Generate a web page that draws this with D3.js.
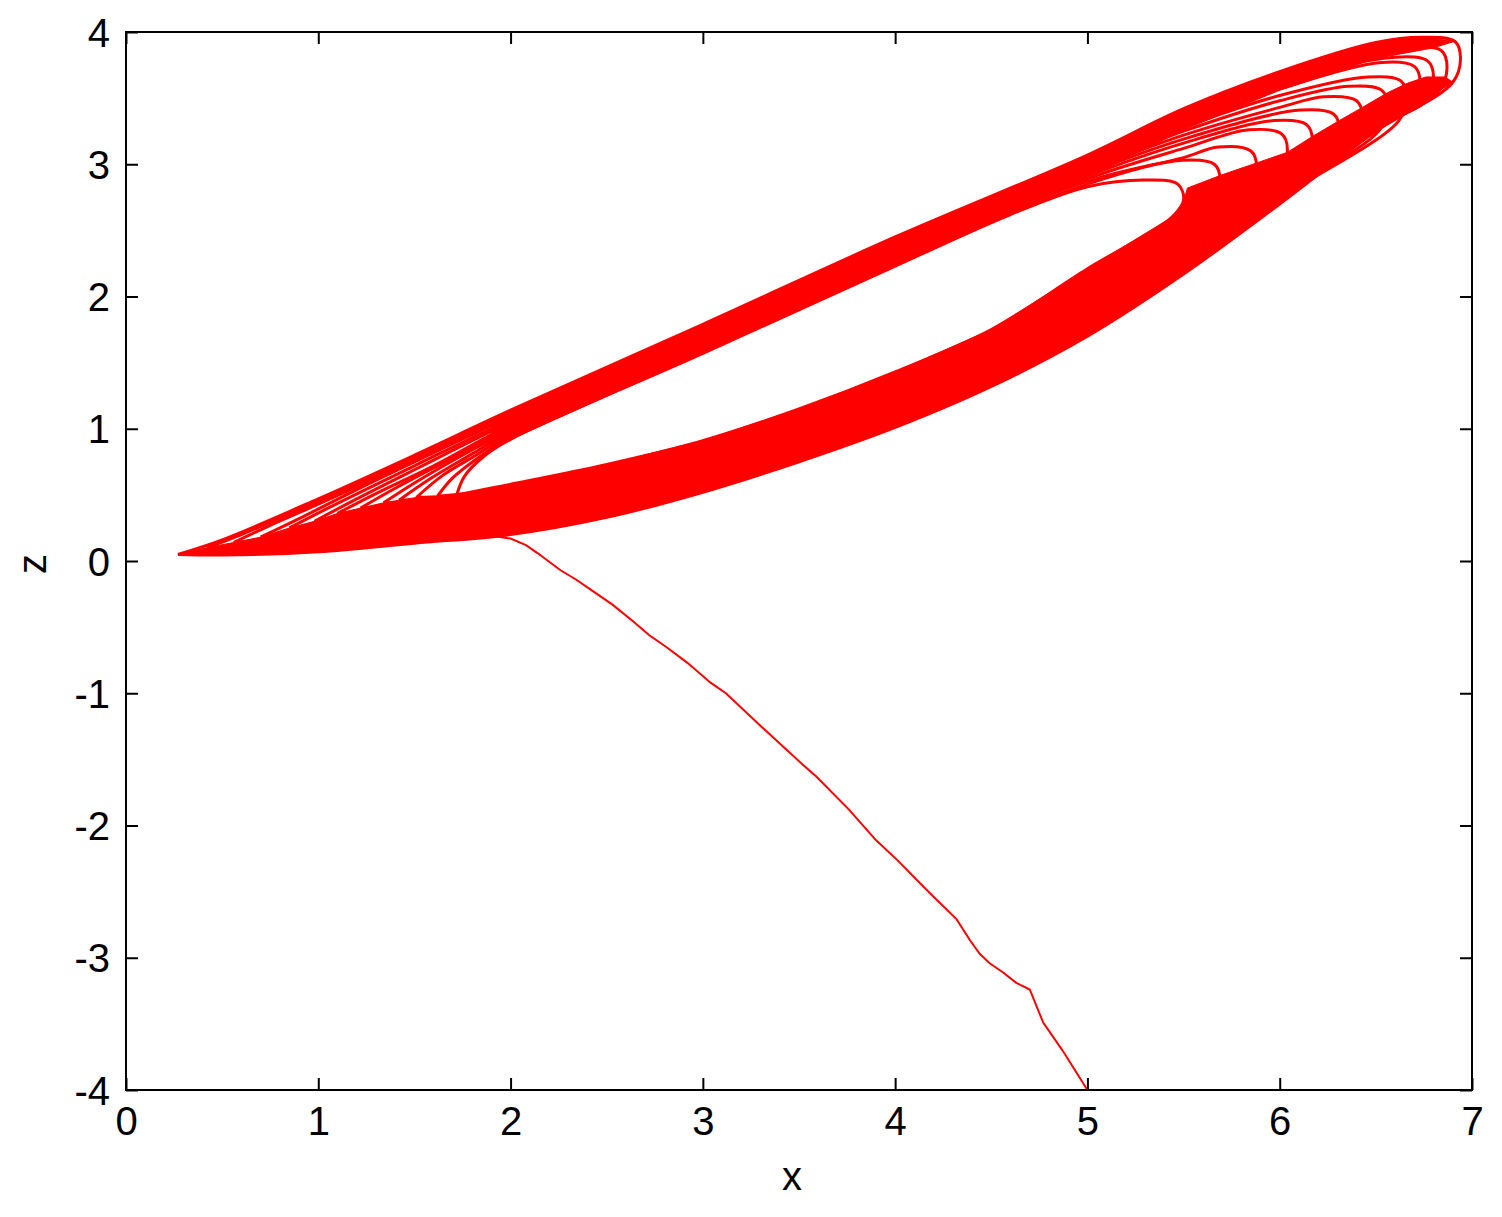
<!DOCTYPE html>
<html>
<head>
<meta charset="utf-8">
<script src="https://cdnjs.cloudflare.com/ajax/libs/d3/7.8.5/d3.min.js"></script>
<style>
  body { margin: 0; background: #fff; }
  .axis text { font-family: "Liberation Sans", Arial, sans-serif; font-size: 40px; fill: #000; }
  .axis line { stroke: #000; stroke-width: 2px; }
  .axis path { display: none; }
  .axis-label { font-family: "Liberation Sans", Arial, sans-serif; font-size: 40px; fill: #000; }
</style>
</head>
<body>
<svg id="chart"></svg>
<script>
'use strict';

// tick values
var xTicks = [0, 1, 2, 3, 4, 5, 6, 7];
var zTicks = [-4, -3, -2, -1, 0, 1, 2, 3, 4];

// transient: from (5,-4) up into the attractor
var transient = [[5.00,-4.00],[4.87,-3.70],[4.77,-3.49],[4.70,-3.24],[4.63,-3.19],[4.56,-3.11],[4.49,-3.04],[4.44,-2.97],[4.39,-2.87],[4.32,-2.71],[4.18,-2.51],[4.01,-2.26],[3.90,-2.11],[3.76,-1.88],[3.59,-1.63],[3.52,-1.54],[3.40,-1.38],[3.28,-1.22],[3.12,-1.00],[3.04,-0.92],[2.92,-0.77],[2.81,-0.65],[2.72,-0.56],[2.64,-0.46],[2.53,-0.33],[2.43,-0.23],[2.34,-0.14],[2.26,-0.07],[2.14,0.06],[2.08,0.12],[2.00,0.17],[1.90,0.19]];

// dense lower part of the band: outer lower edge, edge of the hook zone,
// hole bottom, line of the left turns
var outerLower = [[0.27,0.05],[0.5,0.045],[1.0,0.07],[1.5,0.135],[2.0,0.20],[2.5,0.33],[3.0,0.52],[3.5,0.75],[4.0,1.01],[4.5,1.32],[5.0,1.70],[5.5,2.17],[6.0,2.70],[6.5,3.25],[6.90,3.62]];
var hookEdge = [[6.86,3.66],[6.76,3.66],[6.66,3.61],[6.56,3.54],[6.43,3.43],[6.31,3.33],[6.17,3.21],[6.04,3.09],[5.88,3.01],[5.70,2.92],[5.52,2.82]];
var holeBottom = [[5.50,2.72],[5.44,2.60],[5.0,2.21],[4.5,1.75],[4.0,1.43],[3.5,1.15],[3.0,0.91],[2.5,0.73],[2.0,0.58],[1.72,0.50]];
var turnLine = [[1.62,0.49],[1.51,0.48],[1.42,0.46],[1.34,0.44],[1.22,0.40],[1.10,0.36],[0.98,0.30],[0.85,0.25],[0.70,0.18],[0.56,0.14],[0.42,0.10],[0.27,0.05]];

// dense upper arm: outer upper edge, then its inner edge back
var upperOuter = [[1.9,1.07],[2.0,1.14],[3.0,1.79],[4.0,2.45],[5.0,3.07],[5.5,3.42],[6.0,3.70],[6.5,3.92],[6.74,3.96],[6.91,3.93]];
var upperInner = [[6.80,3.88],[6.5,3.80],[6.0,3.56],[5.5,3.26],[5.0,2.90],[4.6,2.62],[4.0,2.23],[3.0,1.57],[2.0,0.92],[1.9,0.85]];

// loops of the attractor, inner to outer (x, z)
var loop0 = [[1.72,0.50],[1.76,0.64],[1.86,0.79],[2.0,0.92],[3.0,1.57],[4.0,2.23],[4.6,2.62],[5.0,2.83],[5.30,2.88],[5.47,2.85],[5.50,2.73],[5.44,2.60],[5.0,2.21],[4.5,1.75],[4.0,1.43],[3.5,1.15],[3.0,0.91],[2.5,0.73],[2.0,0.58],[1.72,0.50]];
var loop1 = [[1.62,0.49],[1.70,0.63],[1.85,0.80],[2.0,0.94],[3.0,1.59],[4.0,2.25],[5.0,2.85],[5.49,3.03],[5.66,3.00],[5.69,2.88],[5.65,2.70],[5.5,2.56],[5.0,2.15],[4.5,1.71],[4.0,1.40],[3.5,1.12],[3.0,0.88],[2.5,0.70],[2.0,0.55],[1.62,0.49]];
var loop2 = [[1.51,0.48],[1.64,0.64],[1.82,0.80],[2.0,0.96],[3.0,1.61],[4.0,2.27],[5.0,2.87],[5.5,3.05],[5.68,3.13],[5.85,3.10],[5.88,2.98],[5.84,2.80],[5.5,2.47],[5.0,2.09],[4.5,1.68],[4.0,1.36],[3.5,1.08],[3.0,0.84],[2.5,0.66],[2.0,0.52],[1.51,0.48]];
var loop3 = [[1.42,0.46],[1.58,0.62],[1.8,0.81],[2.0,0.98],[3.0,1.63],[4.0,2.29],[5.0,2.89],[5.5,3.12],[5.84,3.26],[6.01,3.23],[6.04,3.11],[6.00,2.93],[5.5,2.42],[5.0,2.05],[4.5,1.64],[4.0,1.33],[3.5,1.05],[3.0,0.81],[2.5,0.63],[2.0,0.49],[1.42,0.46]];
var loop4 = [[1.34,0.44],[1.5,0.59],[1.75,0.80],[2.0,0.99],[3.0,1.64],[4.0,2.30],[5.0,2.91],[5.5,3.16],[5.97,3.33],[6.14,3.30],[6.17,3.18],[6.13,3.00],[5.5,2.37],[5.0,2.01],[4.5,1.61],[4.0,1.29],[3.5,1.02],[3.0,0.78],[2.5,0.60],[2.0,0.45],[1.34,0.44]];
var loop5 = [[1.22,0.40],[1.4,0.55],[1.7,0.78],[2.0,1.01],[3.0,1.66],[4.0,2.32],[5.0,2.93],[5.5,3.19],[6.11,3.41],[6.28,3.38],[6.31,3.26],[6.27,3.08],[6.0,2.80],[5.5,2.33],[5.0,1.97],[4.5,1.57],[4.0,1.26],[3.5,0.98],[3.0,0.75],[2.5,0.56],[2.0,0.42],[1.22,0.40]];
var loop6 = [[1.10,0.36],[1.3,0.51],[1.6,0.72],[2.0,1.03],[3.0,1.68],[4.0,2.34],[5.0,2.95],[5.5,3.22],[6.0,3.43],[6.23,3.51],[6.40,3.48],[6.43,3.36],[6.39,3.18],[6.0,2.78],[5.5,2.28],[5.0,1.93],[4.5,1.54],[4.0,1.22],[3.5,0.95],[3.0,0.72],[2.5,0.53],[2.0,0.39],[1.5,0.37],[1.10,0.36]];
var loop7 = [[0.98,0.30],[1.2,0.47],[1.5,0.69],[2.0,1.05],[3.0,1.70],[4.0,2.36],[5.0,2.97],[5.5,3.25],[6.0,3.48],[6.36,3.59],[6.53,3.56],[6.56,3.44],[6.52,3.26],[6.0,2.76],[5.5,2.24],[5.0,1.90],[4.5,1.50],[4.0,1.19],[3.5,0.92],[3.0,0.68],[2.5,0.50],[2.0,0.36],[1.5,0.33],[0.98,0.30]];
var loop8 = [[0.85,0.25],[1.05,0.40],[1.5,0.72],[2.0,1.07],[3.0,1.72],[4.0,2.38],[5.0,2.99],[5.5,3.28],[6.0,3.52],[6.46,3.66],[6.63,3.63],[6.66,3.51],[6.62,3.33],[6.0,2.74],[5.5,2.22],[5.0,1.86],[4.5,1.46],[4.0,1.15],[3.5,0.88],[3.0,0.65],[2.5,0.46],[2.0,0.33],[1.5,0.30],[0.85,0.25]];
var loop9 = [[0.70,0.18],[0.9,0.32],[1.2,0.54],[1.5,0.75],[2.0,1.09],[3.0,1.74],[4.0,2.40],[5.0,3.01],[5.5,3.32],[6.0,3.57],[6.53,3.77],[6.70,3.74],[6.73,3.62],[6.69,3.44],[6.5,3.30],[6.0,2.73],[5.5,2.20],[5.0,1.82],[4.5,1.43],[4.0,1.12],[3.5,0.85],[3.0,0.62],[2.5,0.43],[2.0,0.30],[1.5,0.25],[1.0,0.21],[0.70,0.18]];
var loop10 = [[0.56,0.14],[0.75,0.27],[1.0,0.43],[1.5,0.76],[2.0,1.10],[3.0,1.75],[4.0,2.41],[5.0,3.03],[5.5,3.36],[6.0,3.62],[6.60,3.81],[6.77,3.78],[6.80,3.66],[6.76,3.48],[6.5,3.28],[6.0,2.72],[5.5,2.19],[5.0,1.78],[4.5,1.39],[4.0,1.08],[3.5,0.82],[3.0,0.59],[2.5,0.40],[2.0,0.26],[1.5,0.22],[1.0,0.17],[0.56,0.14]];
var loop11 = [[0.42,0.10],[0.6,0.20],[1.0,0.45],[1.5,0.78],[2.0,1.12],[3.0,1.77],[4.0,2.43],[5.0,3.05],[5.5,3.40],[6.0,3.66],[6.5,3.86],[6.67,3.89],[6.84,3.86],[6.87,3.74],[6.83,3.56],[6.5,3.27],[6.0,2.71],[5.5,2.18],[5.0,1.74],[4.5,1.36],[4.0,1.05],[3.5,0.78],[3.0,0.55],[2.5,0.36],[2.0,0.23],[1.5,0.18],[1.0,0.12],[0.42,0.10]];
var loop12 = [[0.27,0.05],[0.5,0.16],[1.0,0.47],[1.5,0.80],[2.0,1.14],[3.0,1.79],[4.0,2.45],[5.0,3.07],[5.5,3.42],[6.0,3.70],[6.5,3.92],[6.74,3.96],[6.91,3.93],[6.94,3.81],[6.90,3.62],[6.5,3.25],[6.0,2.70],[5.5,2.17],[5.0,1.70],[4.5,1.32],[4.0,1.01],[3.5,0.75],[3.0,0.52],[2.5,0.33],[2.0,0.20],[1.5,0.135],[1.0,0.07],[0.5,0.045],[0.27,0.05]];

var loops = [loop0, loop1, loop2, loop3, loop4, loop5, loop6, loop7, loop8, loop9, loop10, loop11, loop12];

function drawChart() {
    var margin = { top: 32, right: 30, bottom: 127, left: 126 };
    var w = 1502;
    var h = 1217;
    var width = w - margin.left - margin.right;
    var height = h - margin.top - margin.bottom;

    var svg = d3.select('#chart').attr('width', w).attr('height', h);
    var g = svg.append('g').attr('transform', 'translate(' + margin.left + ',' + margin.top + ')');

    var x = d3.scaleLinear().domain([0, 7]).range([0, width]);
    var z = d3.scaleLinear().domain([-4, 4]).range([height, 0]);

    var line = d3.line()
        .x(function (d) { return x(d[0]); })
        .y(function (d) { return z(d[1]); });

    // parts of the band where the passes lie too close to tell apart
    var dense = [outerLower.concat(hookEdge, holeBottom, turnLine), upperOuter.concat(upperInner)];
    g.append('g').attr('class', 'dense').selectAll('path')
        .data(dense).enter().append('path')
        .attr('d', function (d) { return line.curve(d3.curveLinear)(d) + 'Z'; })
        .attr('fill', '#ff0000')
        .attr('stroke', '#ff0000')
        .attr('stroke-width', 1);

    // attractor loops
    g.append('g').attr('class', 'loops').selectAll('path')
        .data(loops).enter().append('path')
        .attr('d', line.curve(d3.curveCatmullRom.alpha(0.5)))
        .attr('fill', 'none')
        .attr('stroke', '#ff0000')
        .attr('stroke-width', 3)
        .attr('stroke-linejoin', 'miter');

    // transient
    g.append('path')
        .datum(transient)
        .attr('d', line.curve(d3.curveLinear))
        .attr('fill', 'none')
        .attr('stroke', '#ff0000')
        .attr('stroke-width', 2);

    // axes, ticks pointing inward on all four sides
    var fmt = function (d) { return String(d); };

    g.append('g').attr('class', 'axis axis-x')
        .attr('transform', 'translate(0,' + height + ')')
        .call(d3.axisBottom(x).tickValues(xTicks).tickFormat(fmt).tickSizeInner(-12).tickSizeOuter(0).tickPadding(17));

    g.append('g').attr('class', 'axis axis-top')
        .call(d3.axisTop(x).tickValues(xTicks).tickFormat('').tickSizeInner(-12).tickSizeOuter(0));

    g.append('g').attr('class', 'axis axis-y')
        .call(d3.axisLeft(z).tickValues(zTicks).tickFormat(fmt).tickSizeInner(-12).tickSizeOuter(0).tickPadding(16));

    g.append('g').attr('class', 'axis axis-right')
        .attr('transform', 'translate(' + width + ',0)')
        .call(d3.axisRight(z).tickValues(zTicks).tickFormat('').tickSizeInner(-12).tickSizeOuter(0));

    g.selectAll('.axis-y text').attr('dy', '0.35em');

    // frame
    g.append('rect')
        .attr('width', width)
        .attr('height', height)
        .attr('fill', 'none')
        .attr('stroke', '#000')
        .attr('stroke-width', 2);

    // axis labels
    svg.append('text').attr('class', 'axis-label')
        .attr('x', margin.left + width / 2 - 7)
        .attr('y', 1190)
        .attr('text-anchor', 'middle')
        .text('x');

    svg.append('text').attr('class', 'axis-label')
        .attr('transform', 'translate(46,564) rotate(-90)')
        .attr('text-anchor', 'middle')
        .text('z');
}

drawChart();
</script>
</body>
</html>
